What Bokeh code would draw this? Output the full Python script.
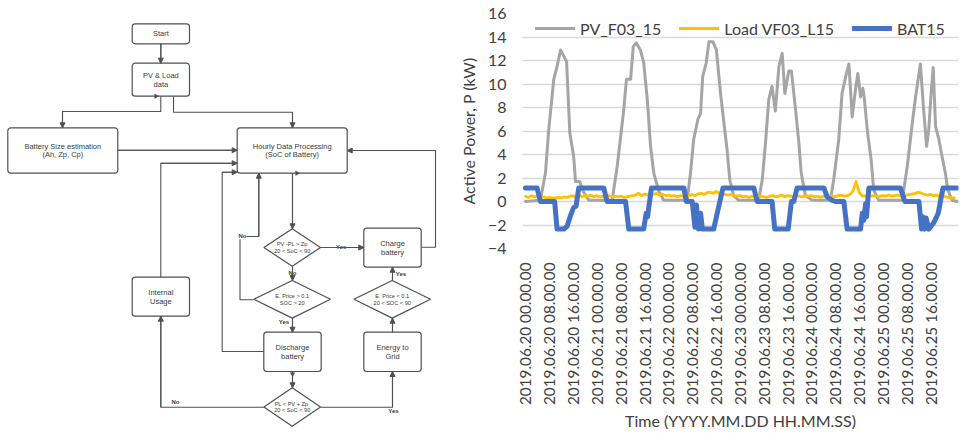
import math
from bokeh.plotting import figure
from bokeh.models import Range1d, FixedTicker, Legend, LegendItem, Arrow, NormalHead, ColumnDataSource
from bokeh.embed import file_html
from bokeh.resources import INLINE
from bokeh.core.properties import value

# ---------------- chart data (hours from 2019.06.20 00:00) ----------------
TICK_HOURS = [0, 8, 16, 24, 32, 40, 48, 56, 64, 72, 80, 88, 96, 104, 112, 120, 128, 136]
TICK_LABELS = [
    "2019.06.20 00.00.00", "2019.06.20 08.00.00", "2019.06.20 16.00.00",
    "2019.06.21 00.00.00", "2019.06.21 08.00.00", "2019.06.21 16.00.00",
    "2019.06.22 00.00.00", "2019.06.22 08.00.00", "2019.06.22 16.00.00",
    "2019.06.23 00.00.00", "2019.06.23 08.00.00", "2019.06.23 16.00.00",
    "2019.06.24 00.00.00", "2019.06.24 08.00.00", "2019.06.24 16.00.00",
    "2019.06.25 00.00.00", "2019.06.25 08.00.00", "2019.06.25 16.00.00",
]
Y_TICKS = [-4, -2, 0, 2, 4, 6, 8, 10, 12, 14, 16]

PV_T = [0, 5.0, 6.7, 7.8, 9.5, 10.6, 11.8, 13.8, 14.9, 16.2, 16.8, 18.2, 19.4, 21.3,
        29.1, 30.8, 33.0, 33.9, 35.3, 36.2, 37.2, 38.6, 39.7, 40.9, 42.0, 43.1, 44.8, 46.4,
        54.3, 55.4, 56.5, 57.9, 58.8, 59.5, 60.7, 61.6, 62.9, 64.1, 65.5, 66.4, 67.7, 68.6, 69.9, 71.6,
        78.3, 79.5, 80.6, 81.7, 82.8, 83.9, 85.1, 86.2, 87.1, 88.4, 89.3, 90.7, 91.8, 92.6, 94.0, 96.3,
        102.4, 103.5, 105.2, 106.3, 107.5, 108.6, 109.7, 110.8, 111.6, 112.5, 113.3, 113.8, 114.9, 116.1, 116.9, 118.6,
        126.5, 128.2, 129.9, 131.0, 132.6, 133.7, 134.7, 135.4, 136.2, 136.9, 137.7, 138.8, 139.9, 141.0, 141.8, 143.3, 145.0]
PV_V = [0, 0.1, 2.4, 6.1, 10.4, 11.5, 12.9, 11.9, 5.8, 3.8, 1.7, 1.7, 0.85, 0.1,
        0.1, 3.0, 7.8, 10.4, 10.4, 13.2, 13.5, 12.9, 11.8, 8.7, 4.7, 2.4, 0.85, 0.1,
        0.1, 2.4, 5.3, 7.0, 7.5, 10.6, 11.8, 13.6, 13.6, 12.9, 9.2, 7.2, 4.4, 1.85, 0.5, 0.1,
        0.1, 1.85, 5.0, 8.7, 9.8, 7.7, 11.5, 12.6, 9.2, 11.1, 11.1, 7.8, 5.0, 2.4, 0.5, 0.1,
        0.1, 1.85, 5.3, 9.2, 10.6, 11.7, 7.2, 9.5, 10.9, 8.9, 9.65, 8.7, 5.8, 3.5, 1.0, 0.1,
        0.1, 3.0, 6.7, 8.9, 11.7, 7.8, 4.7, 6.1, 9.2, 11.4, 6.4, 5.3, 3.8, 2.4, 1.0, 0.1, 0.0]

LOAD_V = [0.45, 0.35, 0.5, 0.4, 0.45, 0.35, 0.4, 0.3, 0.35, 0.3, 0.3, 0.35, 0.3, 0.4, 0.35, 0.45, 0.5, 0.35, 0.55, 0.4, 0.5, 0.45, 0.55, 0.4,
          0.5, 0.4, 0.45, 0.35, 0.5, 0.4, 0.45, 0.4, 0.45, 0.35, 0.4, 0.45, 0.5, 0.55, 0.7, 0.5, 0.65, 0.55, 0.75, 0.6, 0.7, 0.55, 0.65, 0.5,
          0.55, 0.45, 0.5, 0.4, 0.5, 0.45, 0.55, 0.5, 0.6, 0.5, 0.65, 0.7, 0.6, 0.75, 0.8, 0.7, 0.85, 0.7, 0.65, 0.6, 0.55, 0.6, 0.5, 0.45,
          0.5, 0.4, 0.45, 0.35, 0.45, 0.4, 0.5, 0.45, 0.4, 0.35, 0.45, 0.5, 0.4, 0.45, 0.55, 0.4, 0.5, 0.45, 0.4, 0.5, 0.45, 0.4, 0.5, 0.45,
          0.5, 0.4, 0.45, 0.35, 0.45, 0.4, 0.5, 0.45, 0.4, 0.5, 0.55, 0.45, 0.5, 0.6, 0.9, 1.7, 0.8, 0.5, 0.45, 0.55, 0.45, 0.5, 0.4, 0.45,
          0.5, 0.45, 0.55, 0.45, 0.5, 0.55, 0.45, 0.5, 0.55, 0.6, 0.65, 0.7, 0.8, 0.7, 0.6, 0.55, 0.6, 0.5, 0.55, 0.45, 0.5, 0.4, 0.35, 0.3, 0.3]
LOAD_T = list(range(len(LOAD_V)))

BAT_T = [0, 3.9, 5.0, 9.8, 10.6, 12.9, 14.0, 15.1, 16.2, 17.0, 17.9,
         26.3, 27.4, 33.6, 34.7, 39.7, 40.5, 41.0, 41.4, 42.3,
         53.2, 54.0, 56.0, 56.9, 57.4, 58.1, 58.8, 59.4, 63.2, 64.9, 66.3,
         76.7, 77.8, 82.8, 83.7, 88.2, 89.3, 90.1, 91.2,
         100.2, 101.3, 103.0, 104.1, 106.9, 108.0, 112.5, 113.1, 113.6, 114.2, 114.5, 115.3,
         125.9, 127.4, 132.1, 133.0, 133.4, 134.0, 134.5, 135.4, 137.1, 138.6, 139.4, 140.2, 145.0]
BAT_V = [1.15, 1.15, 0, 0, -2.35, -2.35, -2.1, -1.2, -0.5, -0.4, 1.15,
         1.15, 0, 0, -2.35, -2.35, -1.0, -1.3, -0.5, 1.15,
         1.15, 0, 0, -2.2, -0.3, -2.35, -1.0, -2.35, -2.35, -0.4, 1.15,
         1.15, 0, 0, -2.35, -2.35, 0, 0, 1.15,
         1.15, 0.4, 0.1, 0, 0, -2.35, -2.35, -1.0, -1.6, -0.2, -1.3, 1.15,
         1.15, 0, 0, -2.35, -1.3, -2.35, -1.4, -2.35, -1.8, -1.0, 0.1, 1.15, 1.15]

SERIES_NAMES = ["PV_F03_15", "Load VF03_L15", "BAT15"]
SERIES_COLORS = ["#A5A5A5", "#FFC000", "#4472C4"]

# ---------------- flowchart content ----------------
BOXES = [  # x0, x1, y0, y1, lines
    (131.7, 189.0, 23.3, 43.3, ["Start"]),
    (131.7, 189.0, 62.7, 95.7, ["PV & Load", "data"]),
    (7.3, 117.3, 127.3, 172.7, ["Battery Size estimation", "(Ah, Zp, Cp)"]),
    (236.7, 346.7, 127.3, 172.7, ["Hourly Data Processing", "(SoC of Battery)"]),
    (363.3, 420.7, 227.7, 266.7, ["Charge", "battery"]),
    (131.7, 189.0, 276.7, 315.7, ["Internal", "Usage"]),
    (263.3, 320.7, 331.7, 371.0, ["Discharge", "battery"]),
    (363.3, 420.7, 331.7, 371.0, ["Energy to", "Grid"]),
]
DIAMONDS = [  # cx, cy, half width, half height, lines
    (291.7, 247.0, 28.3, 18.7, ["PV -PL > Zp", "20 < SoC < 90"]),
    (291.7, 298.8, 38.3, 18.8, ["E. Price > 0.1", "SOC > 20"]),
    (291.7, 406.5, 28.3, 19.2, ["PL <  PV + Zp", "20 < SoC < 90"]),
    (391.7, 298.8, 38.3, 18.8, ["E. Price < 0.1", "20 < SOC < 90"]),
]
EDGES = [
    [(160.3, 43.3), (160.3, 62.7)],
    [(160.3, 95.7), (160.3, 111.0), (62.0, 111.0), (62.0, 127.3)],
    [(173.0, 95.7), (173.0, 111.7), (292.0, 111.7), (292.0, 127.3)],
    [(117.3, 149.7), (236.7, 149.7)],
    [(292.0, 172.7), (292.0, 228.3)],
    [(320.0, 247.0), (363.3, 247.0)],
    [(292.0, 265.7), (292.0, 280.0)],
    [(292.0, 317.7), (292.0, 331.7)],
    [(253.3, 299.3), (239.5, 299.3), (239.5, 236.0), (258.3, 236.0), (258.3, 172.7)],
    [(292.0, 371.0), (292.0, 387.3)],
    [(263.3, 351.0), (221.7, 351.0), (221.7, 171.7), (236.7, 171.7)],
    [(263.3, 406.7), (160.3, 406.7), (160.3, 315.7)],
    [(160.3, 276.7), (160.3, 162.7), (236.7, 162.7)],
    [(320.0, 406.7), (392.0, 406.7), (392.0, 371.0)],
    [(392.0, 331.7), (392.0, 317.7)],
    [(392.0, 280.0), (392.0, 266.7)],
    [(420.7, 246.7), (435.0, 246.7), (435.0, 150.0), (346.7, 150.0)],
]
EDGE_LABELS = [
    (340.7, 246.7, "Yes"), (292.0, 272.3, "No"), (283.5, 321.5, "Yes"),
    (242.0, 235.7, "No"), (175.0, 401.0, "No"), (393.0, 410.5, "Yes"), (400.5, 273.3, "Yes"),
]
# small start markers on some connectors: x, y, angle
START_MARKS = [(155.5, 95.7, -math.pi / 2), (296.5, 172.7, -math.pi / 2), (292.0, 373.5, math.pi)]

INK = "#505050"
TXT = "#3a3a3a"

# ---------------- flowchart figure ----------------
fc = figure(width=450, height=433, x_range=Range1d(0, 450), y_range=Range1d(433, 0),
            output_backend="svg", toolbar_location=None, min_border=0)
fc.axis.visible = False
fc.grid.visible = False
fc.outline_line_color = None

fc.multi_line(xs=[[pt[0] for pt in e] for e in EDGES], ys=[[pt[1] for pt in e] for e in EDGES],
              line_color=INK, line_width=1.1)
arr_src = ColumnDataSource(dict(
    xs=[e[-2][0] for e in EDGES], ys=[e[-2][1] for e in EDGES],
    xe=[e[-1][0] for e in EDGES], ye=[e[-1][1] for e in EDGES]))
fc.add_layout(Arrow(source=arr_src, x_start="xs", y_start="ys", x_end="xe", y_end="ye",
                    line_color=INK, line_width=1.1,
                    end=NormalHead(size=5, fill_color=INK, line_color=INK, line_width=1)))

fc.quad(left=[b[0] for b in BOXES], right=[b[1] for b in BOXES],
        top=[b[2] for b in BOXES], bottom=[b[3] for b in BOXES],
        fill_color="white", line_color=INK, line_width=1.2, border_radius=3)
fc.patches(xs=[[d[0] - d[2], d[0], d[0] + d[2], d[0]] for d in DIAMONDS],
           ys=[[d[1], d[1] - d[3], d[1], d[1] + d[3]] for d in DIAMONDS],
           fill_color="white", line_color=INK, line_width=1.2)
fc.scatter(x=[m[0] for m in START_MARKS], y=[m[1] for m in START_MARKS], angle=[m[2] for m in START_MARKS],
           marker="triangle", size=4.5, fill_color=INK, line_color=INK, line_width=0.5)

bx, by, bt = [], [], []
for b in BOXES:
    cx, cy = (b[0] + b[1]) / 2, (b[2] + b[3]) / 2
    n = len(b[4])
    for i, s in enumerate(b[4]):
        bx.append(cx)
        by.append(cy + (i - (n - 1) / 2) * 8.8)
        bt.append(s)
fc.text(x=bx, y=by, text=bt, text_align="center", text_baseline="middle",
        text_font=value("Liberation Sans"), text_font_size="7.5px", text_color=TXT)

dx, dy, dt = [], [], []
for d in DIAMONDS:
    for i, s in enumerate(d[4]):
        dx.append(d[0])
        dy.append(d[1] + (i - 0.5) * 6.8)
        dt.append(s)
fc.text(x=dx, y=dy, text=dt, text_align="center", text_baseline="middle",
        text_font=value("Liberation Sans"), text_font_size="5.6px", text_color=TXT)

fc.text(x=[l[0] for l in EDGE_LABELS], y=[l[1] for l in EDGE_LABELS], text=[l[2] for l in EDGE_LABELS],
        text_align="center", text_baseline="middle", text_font=value("Liberation Sans"),
        text_font_size="6px", text_font_style="bold", text_color=TXT,
        background_fill_color="white")

# ---------------- line chart figure ----------------
FONT = "Lato"
p = figure(width=510, height=433, x_range=Range1d(-1.0, 145.4), y_range=Range1d(-4, 16),
           output_backend="svg", toolbar_location=None,
           min_border_left=72, min_border_right=2, min_border_top=13, min_border_bottom=184)
p.outline_line_color = None
p.xgrid.visible = False
p.ygrid.grid_line_color = "#D9D9D9"
p.ygrid.grid_line_width = 1.5

r_pv = p.line(PV_T, PV_V, line_color=SERIES_COLORS[0], line_width=3, line_join="round", line_cap="round")
r_ld = p.line(LOAD_T, LOAD_V, line_color=SERIES_COLORS[1], line_width=2.8, line_join="round", line_cap="round")
r_bt = p.line(BAT_T, BAT_V, line_color=SERIES_COLORS[2], line_width=5, line_join="round", line_cap="round")

p.yaxis.ticker = FixedTicker(ticks=Y_TICKS)
p.xaxis.ticker = FixedTicker(ticks=TICK_HOURS)
p.xaxis.major_label_overrides = {h: lab for h, lab in zip(TICK_HOURS, TICK_LABELS)}
p.xaxis.major_label_orientation = math.pi / 2

for ax in (p.xaxis[0], p.yaxis[0]):
    ax.axis_line_color = None
    ax.major_tick_line_color = None
    ax.minor_tick_line_color = None
    ax.major_label_text_font = FONT
    ax.major_label_text_font_size = "16px"
    ax.major_label_text_color = "#404040"
    ax.axis_label_text_font = FONT
    ax.axis_label_text_font_size = "16px"
    ax.axis_label_text_font_style = "normal"
    ax.axis_label_text_color = "#404040"

p.xaxis.major_label_text_font_size = "15.3px"
p.yaxis.axis_label = "Active Power, P (kW)"
p.yaxis.major_label_standoff = 10
p.yaxis.axis_label_standoff = 7
p.xaxis.axis_label = "Time (YYYY.MM.DD HH.MM.SS)"
p.xaxis.major_label_standoff = 8
p.xaxis.axis_label_standoff = 3

legend = Legend(items=[LegendItem(label=SERIES_NAMES[0], renderers=[r_pv]),
                       LegendItem(label=SERIES_NAMES[1], renderers=[r_ld]),
                       LegendItem(label=SERIES_NAMES[2], renderers=[r_bt])],
                orientation="horizontal", location="top_center",
                label_text_font=FONT, label_text_font_size="16px", label_text_color="#404040",
                glyph_width=40, glyph_height=20, label_standoff=5, spacing=18,
                padding=0, margin=5, background_fill_alpha=0, border_line_alpha=0)
p.add_layout(legend)

# two independent roots placed side by side (so the plot frames are not aligned)
SIDE_BY_SIDE_CSS = ("<style>html, body { margin: 0 !important; padding: 0 !important; } "
                    "body { display: flex !important; flex-direction: row !important; "
                    "flex-wrap: nowrap !important; align-items: flex-start !important; }</style>")
html = file_html([fc, p], INLINE)
html = html.replace("</head>", SIDE_BY_SIDE_CSS + "</head>", 1)
open("out.html", "w").write(html)
